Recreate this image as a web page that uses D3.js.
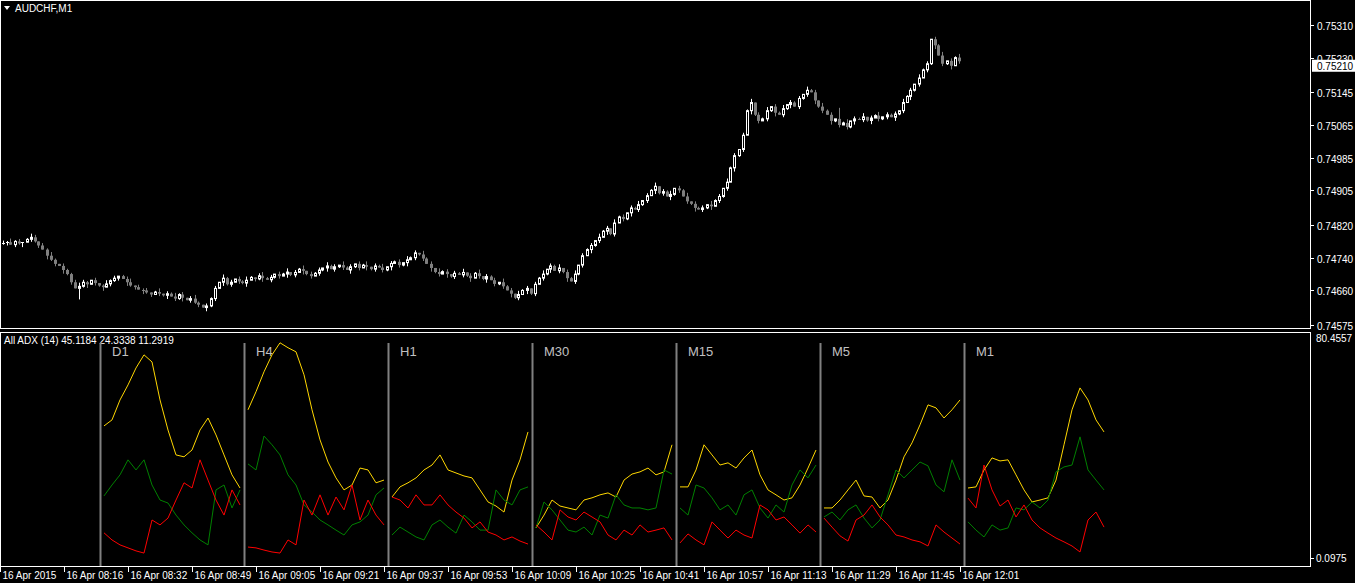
<!DOCTYPE html>
<html><head><meta charset="utf-8">
<script src="https://cdn.jsdelivr.net/npm/d3@7"></script>
<style>html,body{margin:0;padding:0;background:#000;overflow:hidden}</style>
</head><body>
<svg id="c" width="1355" height="583"></svg>
<script>
// ---------- DATA ----------
const symbol = "AUDCHF,M1";
const lastPrice = 0.75210;
const openFirst = 4775; // price = 0.7 + v/100000
const closes = [
4776,4778,4772,4780,4775,4778,4785,4790,4780,4770,
4760,4745,4735,4725,4720,4710,4700,4680,4665,4670,
4680,4675,4685,4678,4672,4668,4676,4684,4690,4695,
4688,4680,4672,4668,4662,4660,4655,4650,4656,4652,
4648,4652,4645,4640,4650,4642,4636,4640,4630,4625,
4618,4622,4640,4665,4680,4690,4675,4680,4688,4682,
4678,4685,4692,4688,4696,4690,4686,4692,4700,4695,
4700,4705,4698,4704,4712,4708,4700,4695,4702,4710,
4715,4720,4712,4718,4722,4716,4710,4718,4725,4715,
4722,4718,4712,4720,4716,4710,4718,4726,4730,4722,
4728,4735,4740,4752,4748,4738,4725,4715,4705,4700,
4706,4700,4694,4702,4698,4704,4696,4690,4702,4695,
4688,4694,4685,4676,4680,4670,4660,4652,4642,4650,
4660,4665,4652,4675,4690,4700,4712,4720,4708,4715,
4705,4690,4682,4700,4722,4745,4760,4770,4782,4790,
4805,4812,4798,4825,4840,4835,4850,4862,4858,4870,
4880,4892,4905,4915,4898,4902,4890,4895,4910,4905,
4890,4878,4872,4862,4858,4862,4870,4866,4880,4890,
4910,4925,4960,4990,5005,5040,5100,5120,5090,5075,
5080,5100,5110,5095,5090,5105,5115,5120,5110,5130,
5140,5150,5145,5125,5110,5100,5090,5075,5080,5065,
5070,5060,5075,5080,5078,5085,5076,5082,5088,5080,
5085,5090,5084,5092,5100,5120,5135,5150,5165,5180,
5200,5215,5275,5260,5235,5215,5222,5210,5230,5221];
// wick lengths in units of 3 pips
const wickUp = "2131201320213102112321020131201230212013021312023102120312" +
"0213102312021302130212031203120213021302120312031203120213" +
"0213021203120312021302130213021203120312021302130213021302" +
"1203120312021302130213021203120312091302130213021203120312" +
"02130213";
const wickDn = "1202130212031203120913021302120312031202130213021203120312" +
"0213021302120312031202130212031203120213021302120312031202" +
"1302130212031203120213021302120312031202130212031203120213" +
"0213021203120312021302130212031203120213021302120312031202" +
"13021302";
const priceTicks = [0.75310,0.75230,0.75145,0.75065,0.74985,0.74905,0.74820,0.74740,0.74660,0.74575];
const timeLabels = ["16 Apr 2015","16 Apr 08:16","16 Apr 08:32","16 Apr 08:49","16 Apr 09:05","16 Apr 09:21",
"16 Apr 09:37","16 Apr 09:53","16 Apr 10:09","16 Apr 10:25","16 Apr 10:41","16 Apr 10:57","16 Apr 11:13",
"16 Apr 11:29","16 Apr 11:45","16 Apr 12:01"];
const adxLabel = "All ADX (14) 45.1184 24.3338 11.2919";
const adxMax = 80.4557, adxMin = 0.0975;
const frames = ["D1","H4","H1","M30","M15","M5","M1"];
const adxYellow = [
[48.3,50.5,57.8,63.3,69.5,74.3,71.7,57.8,46.8,37.7,37.0,39.5,46.8,51.2,45.0,37.7,30.4,25.6],
[54.2,60.8,68.1,74.3,78.7,76.9,75.4,67.0,54.2,43.2,35.1,29.3,24.9,26.7,32.9,32.2,27.5,28.5],
[22.3,26.0,27.5,29.3,32.2,34.0,37.7,32.2,31.1,30.0,29.3,24.9,20.5,19.0,16.8,28.5,35.9,46.1],
[11.0,15.7,21.2,19.0,18.3,17.6,21.2,22.0,23.1,23.8,22.3,28.5,30.7,31.5,32.9,30.4,31.5,41.4],
[26.0,26.0,32.2,41.4,37.7,34.0,34.8,32.9,36.6,39.5,30.4,24.9,23.1,21.2,22.0,26.7,32.9,39.5],
[18.3,18.3,21.2,24.9,28.5,22.7,22.3,18.3,21.2,28.5,37.0,42.1,48.7,56.0,54.9,51.2,54.2,57.8],
[25.6,26.0,32.2,36.6,35.5,35.9,30.4,24.9,20.5,21.2,22.0,28.5,41.4,54.2,62.2,57.8,50.5,46.1]];
const adxGreen = [
[22.7,26.7,30.4,35.9,32.2,35.9,26.7,21.2,20.1,15.7,12.1,9.2,6.6,4.8,24.9,26.7,18.3,24.9],
[34.4,32.2,44.6,41.4,37.7,30.4,26.7,19.4,16.8,13.9,12.1,10.2,8.4,12.1,13.2,15.7,23.1,25.6],
[8.4,11.3,9.5,7.7,6.6,12.1,13.9,11.3,9.1,15.7,13.2,10.2,10.2,24.9,21.2,19.4,24.9,26.0],
[11.0,20.5,17.6,13.9,10.2,9.5,11.3,8.4,15.7,14.6,23.1,19.4,18.3,18.3,17.6,18.3,32.2,30.7],
[18.3,15.7,26.7,25.6,22.0,17.6,19.4,15.7,23.1,24.9,18.3,14.6,19.4,16.8,26.7,32.2,29.3,34.0],
[15.0,16.8,13.9,17.6,19.4,14.6,11.0,13.9,23.1,32.2,29.3,32.2,35.1,33.7,26.7,24.2,35.9,28.5],
[13.2,10.2,7.7,12.1,10.2,11.0,18.3,17.6,20.5,18.3,21.2,31.5,33.3,34.0,44.3,32.2,28.5,24.9]];
const adxRed = [
[9.2,6.6,4.8,3.7,2.6,1.8,13.9,12.1,14.6,21.2,27.5,25.6,35.9,28.5,21.2,15.7,24.9,19.4],
[4.0,3.7,2.9,2.2,1.8,6.6,4.8,21.2,15.7,23.1,15.7,22.3,17.6,26.7,13.9,21.2,15.7,12.1],
[22.3,21.2,18.3,23.1,19.4,19.4,23.1,19.4,16.8,14.6,11.0,13.2,9.5,8.4,6.6,7.7,6.2,5.1],
[12.1,9.5,6.6,17.6,15.0,13.9,16.8,15.0,13.2,8.4,6.6,10.2,8.4,12.1,9.5,10.2,11.0,6.6],
[5.5,8.8,6.6,4.8,13.2,10.2,7.3,10.2,8.4,7.3,19.4,17.6,13.9,15.0,12.1,9.1,12.1,9.5],
[14.6,11.3,8.1,6.2,13.9,15.7,19.4,15.0,12.1,8.4,7.7,6.6,5.9,4.4,12.1,9.5,7.3,5.1],
[21.9,18.3,34.0,24.9,19.0,21.2,15.0,19.4,13.9,11.0,9.1,7.3,5.9,4.4,2.2,13.9,16.8,11.3]];

// ---------- DRAW ----------
const svg = d3.select("#c");
const FONT = "Liberation Sans, Arial, sans-serif";
const plotR = 1310;
const n = closes.length;
const toP = v => 0.7 + v/100000;

const x = d3.scaleLinear().domain([0, n]).range([0.5, 960.5]);
const y = d3.scaleLinear().domain([0.74568, 0.75371]).range([328, 0]);

svg.append("rect").attr("x",0.5).attr("y",0.5).attr("width",plotR).attr("height",328).attr("fill","none").attr("stroke","#fff");
svg.append("rect").attr("x",0.5).attr("y",332.5).attr("width",plotR).attr("height",234).attr("fill","none").attr("stroke","#fff");

const g = svg.append("g");
closes.forEach((c,i)=>{
  const o = i===0 ? openFirst : closes[i-1];
  const hi = Math.max(o,c) + (+wickUp[i]||0)*3;
  const lo = Math.min(o,c) - (+wickDn[i]||0)*3;
  const bull = c >= o;
  const cx = Math.round(x(i+0.5)) + 0.5;
  const col = bull ? "#ffffff" : "#7f7f7f";
  g.append("line").attr("x1",cx).attr("x2",cx).attr("y1",y(toP(hi))).attr("y2",y(toP(lo))).attr("stroke",col);
  const top = y(toP(Math.max(o,c))), bot = y(toP(Math.min(o,c)));
  if (Math.abs(bot-top) < 1.5) {
    g.append("line").attr("x1",cx-1.5).attr("x2",cx+1.5).attr("y1",Math.round(top)+0.5).attr("y2",Math.round(top)+0.5).attr("stroke",col);
  } else if (bull) {
    g.append("rect").attr("x",cx-1).attr("y",top).attr("width",2).attr("height",bot-top).attr("fill","#000").attr("stroke","#fff");
  } else {
    g.append("rect").attr("x",cx-1.5).attr("y",top).attr("width",3).attr("height",bot-top).attr("fill","#7f7f7f");
  }
});

const ax = svg.append("g").attr("font-family",FONT).attr("font-size",10).attr("fill","#fff");
priceTicks.forEach(t=>{
  const yy = Math.round(y(t))+0.5;
  ax.append("line").attr("x1",plotR).attr("x2",plotR+4).attr("y1",yy).attr("y2",yy).attr("stroke","#fff");
  ax.append("text").attr("x",1317).attr("y",yy+4).text(t.toFixed(5));
});
const ly = y(lastPrice);
ax.append("rect").attr("x",1312).attr("y",ly-6).attr("width",43).attr("height",12).attr("fill","#fff");
ax.append("text").attr("x",1317).attr("y",ly+4).attr("fill","#000").text(lastPrice.toFixed(5));

svg.append("path").attr("d","M4,6 L10,6 L7,10 Z").attr("fill","#fff");
svg.append("text").attr("x",15).attr("y",12).attr("font-family",FONT).attr("font-size",10).attr("fill","#fff").text(symbol);

const ya = d3.scaleLinear().domain([0, adxMax]).range([558, 338]);
svg.append("text").attr("x",4).attr("y",344).attr("font-family",FONT).attr("font-size",10).attr("fill","#fff").text(adxLabel);
ax.append("text").attr("x",1316).attr("y",ya(adxMax)+4).text(adxMax.toFixed(4));
ax.append("line").attr("x1",plotR).attr("x2",plotR+4).attr("y1",Math.round(ya(adxMin))+0.5).attr("y2",Math.round(ya(adxMin))+0.5).attr("stroke","#fff");
ax.append("text").attr("x",1316).attr("y",ya(adxMin)+4).text(adxMin.toFixed(4));

const sectX = d3.scaleBand().domain(frames).range([100, 1108]);
const px = d3.scaleLinear().domain([0, 17]).range([4, 140]);
frames.forEach((f,k)=>{
  const x0 = sectX(f);
  svg.append("line").attr("x1",x0+0.5).attr("x2",x0+0.5).attr("y1",343).attr("y2",566).attr("stroke","#808080").attr("stroke-width",2);
  svg.append("text").attr("x",x0+12).attr("y",356).attr("font-family",FONT).attr("font-size",13).attr("fill","#c0c0c0").text(f);
  const line = d3.line().x((d,i)=>x0+px(i)).y(d=>ya(d));
  [[adxYellow,"#ffd700"],[adxGreen,"#008000"],[adxRed,"#ff0000"]].forEach(([arr,col])=>{
    svg.append("path").attr("d",line(arr[k])).attr("fill","none").attr("stroke",col).attr("stroke-width",1);
  });
});

const tx = d3.scaleLinear().domain([0, timeLabels.length]).range([0, 1024]);
timeLabels.forEach((t,i)=>{
  const xx = Math.round(tx(i))+0.5;
  svg.append("line").attr("x1",xx).attr("x2",xx).attr("y1",567).attr("y2",572).attr("stroke","#fff");
  svg.append("text").attr("x",xx+2).attr("y",579).attr("font-family",FONT).attr("font-size",10).attr("fill","#fff").text(t);
});
</script>
</body></html>
